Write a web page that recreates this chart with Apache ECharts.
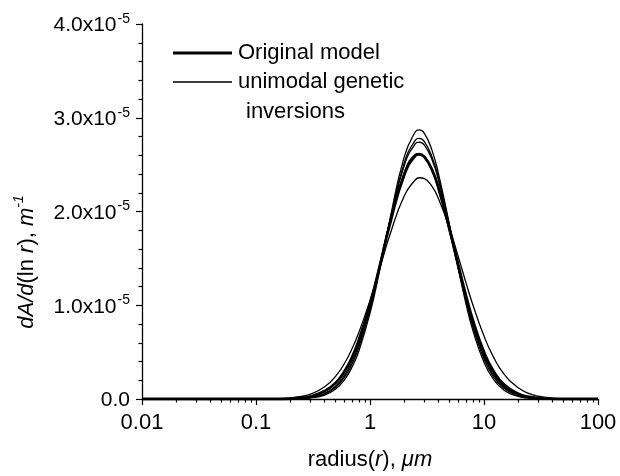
<!DOCTYPE html>
<html><head><meta charset="utf-8">
<script src="https://cdn.jsdelivr.net/npm/echarts@6/dist/echarts.min.js"></script>
<style>html,body{margin:0;padding:0;background:#fff}#c{width:620px;height:476px}</style>
</head><body><div id="c"></div>
<script>
// radius r in micrometres
const radius = [0.01, 0.1, 0.15, 0.2, 0.25, 0.3, 0.4, 0.5, 0.6, 0.7, 0.8, 1, 1.2, 1.5, 2, 2.5, 2.7, 3, 3.5, 4, 5, 6, 7, 8, 10, 12, 15, 20, 25, 30, 40, 50, 100];
// dA/d(ln r) in units of 1e-5 m^-1
const originalModel = [0,0,0, 0.004,0.011,0.025,0.085,0.172,0.298,0.452,0.629, 1.011,1.386,1.873,2.393,2.595,2.61,2.582,2.445,2.248, 1.809,1.412,1.088,0.837,0.500,0.306,0.154,0.055,0.022,0.010,0.002, 0,0];
const inversionA = [0,0,0, 0.001,0.004,0.011,0.042,0.106,0.209,0.348,0.515, 0.915,1.339,1.923,2.586,2.851,2.87,2.833,2.652,2.397, 1.845,1.368,0.999,0.729,0.391,0.217,0.094,0.027,0.009,0.003,0, 0,0];
const inversionB = [0,0,0, 0.002,0.006,0.014,0.053,0.125,0.237,0.382,0.553, 0.949,1.358,1.909,2.521,2.762,2.78,2.746,2.582,2.347, 1.835,1.386,1.032,0.766,0.427,0.245,0.112,0.035,0.012,0.005,0.001, 0,0];
const inversionC = [0,0,0, 0.002,0.007,0.017,0.060,0.139,0.257,0.407,0.581, 0.976,1.377,1.909,2.494,2.723,2.74,2.708,2.552,2.329, 1.838,1.403,1.058,0.795,0.453,0.266,0.125,0.041,0.015,0.006,0.001, 0,0];
const inversionD = [0,0,0, 0.004,0.011,0.024,0.077,0.169,0.297,0.455,0.635, 1.024,1.405,1.898,2.419,2.610,2.62,2.583,2.434,2.226, 1.773,1.370,1.046,0.798,0.469,0.283,0.139,0.048,0.019,0.008,0.002, 0,0];
const inversionE = [0,0,0.003, 0.011,0.027,0.051,0.130,0.244,0.384,0.543,0.712, 1.052,1.366,1.757,2.169,2.339,2.36,2.350,2.267,2.134, 1.814,1.501,1.228,1.003,0.671,0.457,0.266,0.119,0.058,0.031,0.010, 0.002,0];
const SCALE = 1e-5;
const xMajorTicks = [0.01, 0.1, 1, 10, 100];
const xMinorTicks = [0.02,0.03,0.04,0.05,0.06,0.07,0.08,0.09, 0.2,0.3,0.4,0.5,0.6,0.7,0.8,0.9, 2,3,4,5,6,7,8,9, 20,30,40,50,60,70,80,90];
const legendNames = ['Original model', 'unimodal genetic', 'inversions'];

const FONT = "'Liberation Sans', Arial, sans-serif";
const FS = 22;
const toPairs = arr => radius.map((r, i) => [r, arr[i] * SCALE]);

const thin = [inversionA, inversionB, inversionC, inversionD, inversionE].map((arr, i) => ({
  name: 'inv' + i, type: 'line', data: toPairs(arr), smooth: true, showSymbol: false,
  lineStyle: {color: '#000', width: 1.3}, z: 2
}));

const chart = echarts.init(document.getElementById('c'), null, {renderer: 'canvas'});
chart.setOption({
  animation: false,
  backgroundColor: '#fff',
  grid: {left: 142, right: 22, top: 24, bottom: 71, containLabel: false},
  xAxis: [{
    type: 'log', logBase: 10, min: 0.01, max: 100, position: 'bottom',
    axisLine: {lineStyle: {color: '#000', width: 1.3}},
    axisTick: {show: true, length: 6, lineStyle: {color: '#000', width: 1.2}, customValues: xMajorTicks},
    axisLabel: {color: '#000', fontFamily: FONT, fontSize: FS, margin: 13, customValues: xMajorTicks,
      formatter: v => String(+(+v).toPrecision(3))},
    splitLine: {show: false},
    name: 'radius({i|r}), {g|μm}', nameLocation: 'middle', nameGap: 50,
    nameTextStyle: {color: '#000', fontFamily: FONT, fontSize: FS,
      rich: {i: {fontStyle: 'italic', fontFamily: FONT, fontSize: FS, color: '#000'},
             g: {fontStyle: 'italic', fontFamily: FONT, fontSize: FS, color: '#000'}}}
  }, {
    type: 'log', logBase: 10, min: 0.01, max: 100, position: 'bottom', gridIndex: 0,
    axisLine: {show: false},
    axisTick: {show: true, length: 3.5, lineStyle: {color: '#000', width: 1.2}, customValues: xMinorTicks},
    axisLabel: {show: false}, splitLine: {show: false}
  }],
  yAxis: {
    type: 'value', min: 0, max: 4 * SCALE, interval: SCALE,
    axisLine: {show: true, lineStyle: {color: '#000', width: 1.3}},
    axisTick: {show: true, length: 6, lineStyle: {color: '#000', width: 1.2}},
    minorTick: {show: true, splitNumber: 5, length: 3.5, lineStyle: {color: '#000', width: 1.2}},
    splitLine: {show: false},
    axisLabel: {
      margin: 12, color: '#000', fontFamily: FONT,
      formatter: v => {
        const k = Math.round(v / SCALE * 10) / 10;
        return k === 0 ? '{m|0.0}' : '{m|' + k.toFixed(1) + 'x10}{s|-5}';
      },
      rich: {
        m: {fontSize: 21, fontFamily: FONT, color: '#000', lineHeight: 24, verticalAlign: 'bottom'},
        s: {fontSize: 14, fontFamily: FONT, color: '#000', verticalAlign: 'top', padding: [0, 0, 0, 1]}
      }
    }
  },
  graphic: [
    {type: 'line', shape: {x1: 173, y1: 53, x2: 232, y2: 53}, style: {stroke: '#000', lineWidth: 3}},
    {type: 'text', x: 238, y: 53, style: {text: legendNames[0], font: FS + 'px ' + FONT, fill: '#000', verticalAlign: 'middle'}},
    {type: 'line', shape: {x1: 173, y1: 82, x2: 232, y2: 82}, style: {stroke: '#000', lineWidth: 1.3}},
    {type: 'text', x: 238, y: 82, style: {text: legendNames[1], font: FS + 'px ' + FONT, fill: '#000', verticalAlign: 'middle'}},
    {type: 'text', x: 246, y: 112, style: {text: legendNames[2], font: FS + 'px ' + FONT, fill: '#000', verticalAlign: 'middle'}},
    {type: 'text', x: 25, y: 262, rotation: Math.PI / 2,
      style: {
        text: '{i|dA/d}{n|(ln }{i|r}{n|), }{i|m}{s|-1}', align: 'center', verticalAlign: 'middle',
        rich: {
          i: {fontStyle: 'italic', fontSize: FS, fontFamily: FONT, fill: '#000', lineHeight: 25, verticalAlign: 'bottom'},
          n: {fontSize: FS, fontFamily: FONT, fill: '#000', lineHeight: 25, verticalAlign: 'bottom'},
          s: {fontStyle: 'italic', fontSize: 14, fontFamily: FONT, fill: '#000', verticalAlign: 'top'}
        }
      }}
  ],
  series: thin.concat([{
    name: 'Original model', type: 'line', data: toPairs(originalModel), smooth: true, showSymbol: false,
    lineStyle: {color: '#000', width: 2.8}, z: 3
  }])
});
</script>
</body></html>
